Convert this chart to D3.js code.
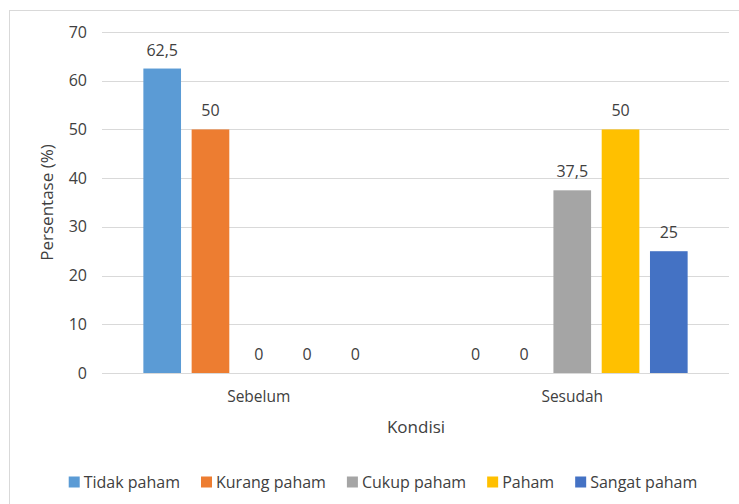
<!DOCTYPE html>
<html>
<head>
<meta charset="utf-8">
<script src="https://cdn.jsdelivr.net/npm/d3@7"></script>
<style>
  body { margin: 0; background: #fff; }
  text { font-family: "Open Sans", "Noto Sans", sans-serif; fill: #404040; }
</style>
</head>
<body>
<script>
var categories = ["Sebelum", "Sesudah"];
var series = ["Tidak paham", "Kurang paham", "Cukup paham", "Paham", "Sangat paham"];
var colors = ["#5B9BD5", "#ED7D31", "#A5A5A5", "#FFC000", "#4472C4"];
// values per series: [Sebelum, Sesudah]
var tidakPaham = [62.5, 0];
var kurangPaham = [50, 0];
var cukupPaham = [0, 37.5];
var paham = [0, 50];
var sangatPaham = [0, 25];
var yTicks = [0, 10, 20, 30, 40, 50, 60, 70];

var values = [tidakPaham, kurangPaham, cukupPaham, paham, sangatPaham];
var rows = [];
series.forEach(function(s, i) {
  categories.forEach(function(c, j) {
    rows.push({ series: s, cat: c, value: values[i][j], color: colors[i] });
  });
});

var w = 739, h = 504;
var pLeft = 102, pRight = 729, pTop = 32, pBottom = 373;

var svg = d3.select("body").append("svg")
  .attr("width", w)
  .attr("height", h);

// chart border
svg.append("rect")
  .attr("x", 9.5).attr("y", 10.5)
  .attr("width", 740).attr("height", 500)
  .attr("fill", "none")
  .attr("stroke", "#d9d9d9");

var y = d3.scaleLinear().domain([0, 70]).range([pBottom, pTop]);
var x0 = d3.scaleBand().domain(categories).range([pLeft, pRight])
  .paddingInner(0.23).paddingOuter(0.115);
var x1 = d3.scaleBand().domain(series).range([0, x0.bandwidth()])
  .paddingInner(0.22).paddingOuter(0.11);

// gridlines
svg.selectAll("line.grid")
  .data(yTicks)
  .enter()
  .append("line")
  .attr("class", "grid")
  .attr("x1", pLeft).attr("x2", pRight)
  .attr("y1", function(d) { return Math.round(y(d)) + 0.5; })
  .attr("y2", function(d) { return Math.round(y(d)) + 0.5; })
  .attr("stroke", "#d9d9d9")
  .attr("stroke-width", 1);

// y tick labels
svg.selectAll("text.ytick")
  .data(yTicks)
  .enter()
  .append("text")
  .attr("class", "ytick")
  .attr("x", 87)
  .attr("y", function(d) { return y(d); })
  .attr("dy", "0.35em")
  .attr("text-anchor", "end")
  .style("font-size", "16px")
  .text(function(d) { return d; });

// bars
svg.selectAll("rect.bar")
  .data(rows)
  .enter()
  .append("rect")
  .attr("class", "bar")
  .attr("x", function(d) { return x0(d.cat) + x1(d.series); })
  .attr("y", function(d) { return y(d.value); })
  .attr("width", x1.bandwidth())
  .attr("height", function(d) { return y(0) - y(d.value); })
  .attr("fill", function(d) { return d.color; });

// data labels
svg.selectAll("text.lbl")
  .data(rows)
  .enter()
  .append("text")
  .attr("class", "lbl")
  .attr("x", function(d) { return x0(d.cat) + x1(d.series) + x1.bandwidth() / 2; })
  .attr("y", function(d) { return y(d.value) - 13; })
  .attr("text-anchor", "middle")
  .style("font-size", "16px")
  .text(function(d) { return String(d.value).replace(".", ","); });

// category labels
svg.selectAll("text.cat")
  .data(categories)
  .enter()
  .append("text")
  .attr("class", "cat")
  .attr("x", function(d) { return x0(d) + x0.bandwidth() / 2; })
  .attr("y", 397)
  .attr("dy", "0.35em")
  .attr("text-anchor", "middle")
  .style("font-size", "15.5px")
  .text(function(d) { return d; });

// axis titles
svg.append("text")
  .attr("x", 416)
  .attr("y", 427)
  .attr("dy", "0.35em")
  .attr("text-anchor", "middle")
  .style("font-size", "17px")
  .text("Kondisi");

svg.append("text")
  .attr("transform", "translate(47," + ((pTop + pBottom) / 2) + ") rotate(-90)")
  .attr("dy", "0.35em")
  .attr("text-anchor", "middle")
  .style("font-size", "17px")
  .text("Persentase (%)");

// legend
var legend = svg.append("g");
var lx = 0;
series.forEach(function(s, i) {
  var g = legend.append("g").attr("transform", "translate(" + lx + ",0)");
  g.append("rect").attr("x", 0).attr("y", -5.5).attr("width", 11).attr("height", 11)
    .attr("fill", colors[i]);
  var t = g.append("text").attr("x", 15).attr("y", 0).attr("dy", "0.35em")
    .style("font-size", "16px").text(s);
  lx += 15 + t.node().getComputedTextLength() + 21;
});
var lw = lx - 21;
legend.attr("transform", "translate(" + (383 - lw / 2) + ",482)");
</script>
</body>
</html>
